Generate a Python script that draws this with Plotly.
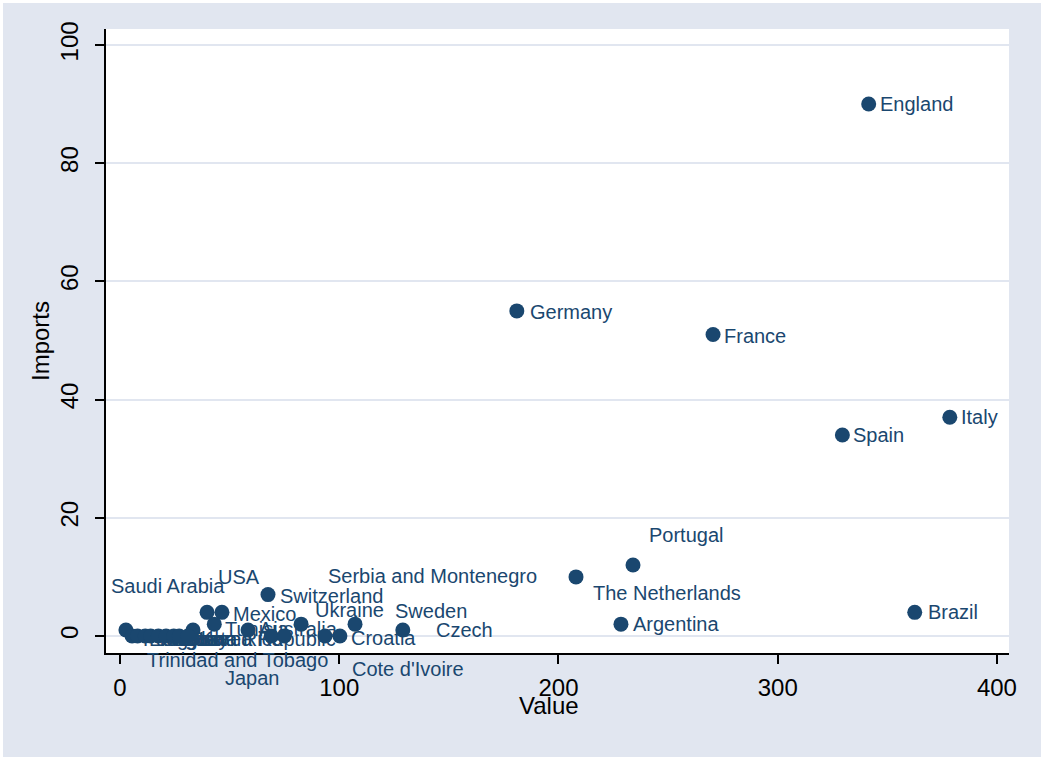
import plotly.graph_objects as go

# ---- data ----
countries = ["England", "Germany", "France", "Italy", "Spain", "Brazil", "Argentina",
             "Portugal", "The Netherlands", "Saudi Arabia", "USA", "Mexico", "Tunisia",
             "Australia", "Switzerland", "Trinidad and Tobago", "Serbia and Montenegro",
             "Ukraine", "Cote d'Ivoire", "Croatia", "Sweden", "Czech", "Japan",
             "Paraguay", "Ecuador", "Togo", "Angola", "Iran", "Ghana", "Costa Rica",
             "Poland", "Korea Republic"]
value = [341.5, 181, 270.5, 378.5, 329.5, 362.5, 228.5,
         234, 208, 2.7, 39.7, 46.5, 43,
         58.4, 67.5, 69, 75,
         82.6, 93.5, 100.3, 107.2, 129, 33.3,
         5.5, 8, 11.5, 14, 17.5, 21, 24.5,
         27, 31]
imports = [90, 55, 51, 37, 34, 4, 2,
           12, 10, 1, 4, 4, 2,
           1, 7, 0, 0,
           2, 0, 0, 2, 1, 1,
           0, 0, 0, 0, 0, 0, 0,
           0, 0]

# ---- label placement (pixel offsets from each marker) ----
lab_anchor = ["left"] * 9 + ["center", "center", "left", "left", "left", "left", "center",
                             "center", "left", "left", "left", "left", "left", "center"] + ["left"] * 9
lab_dx = [9, 11, 9, 9, 9, 11, 10, 14, 15,
          42, 32, 9, 9, 9, 10, -34, 148, 12, 25, 9, 38, 31, 59] + [9] * 9
lab_dy = [0, 1, 1, 0, 0, 0, 0, -30, 16,
          -44, -35, 2, 5, -1, 1, 24, -60, -14, 33, 2, -13, 0, 48] + [3] * 9

NAVY = "#1a476f"
BG = "#e1e6f0"
FONT = "Liberation Sans, Arial, sans-serif"

fig = go.Figure()
fig.add_trace(go.Scatter(
    x=value, y=imports, mode="markers",
    marker=dict(color=NAVY, size=15, line=dict(width=0)),
    hoverinfo="skip", showlegend=False, cliponaxis=False,
))

W, H = 1044, 760
L, R, T, B = 106, 35, 29, 107
pw, ph = W - L - R, H - T - B

annotations = []
for c, xv, yv, a, dx, dy in zip(countries, value, imports, lab_anchor, lab_dx, lab_dy):
    annotations.append(dict(
        x=xv, y=yv, xref="x", yref="y", text=c, showarrow=False,
        xanchor=a, yanchor="middle", xshift=dx, yshift=-dy,
        font=dict(family=FONT, size=20, color=NAVY),
    ))
# x-axis title
annotations.append(dict(
    x=(549 - L) / pw, y=(H - B - 705) / ph, xref="paper", yref="paper",
    text="Value", showarrow=False, xanchor="center", yanchor="middle",
    font=dict(family=FONT, size=24, color="black"),
))

shapes = [dict(
    type="rect", xref="paper", yref="paper",
    x0=-L / pw, x1=(W - L) / pw, y0=-B / ph, y1=(H - B) / ph,
    line=dict(color="white", width=6), fillcolor="rgba(0,0,0,0)", layer="above",
)]

fig.update_layout(
    width=W, height=H,
    margin=dict(l=L, r=R, t=T, b=B, pad=0),
    paper_bgcolor=BG, plot_bgcolor="white",
    font=dict(family=FONT, color="black"),
    annotations=annotations, shapes=shapes,
    xaxis=dict(
        range=[-6.39, 405.5], tickvals=[0, 100, 200, 300, 400],
        showgrid=False, zeroline=False,
        showline=True, linecolor="black", linewidth=2,
        ticks="outside", ticklen=9, tickwidth=2, tickcolor="black",
        tickfont=dict(size=24, color="black"), ticklabelstandoff=3,
    ),
    yaxis=dict(
        range=[-2.88, 102.7], tickvals=[0, 20, 40, 60, 80, 100],
        showgrid=True, gridcolor=BG, gridwidth=2, zeroline=False,
        showline=True, linecolor="black", linewidth=2,
        ticks="outside", ticklen=9, tickwidth=2, tickcolor="black",
        tickangle=-90, ticklabelstandoff=7,
        tickfont=dict(size=24, color="black"),
        title=dict(text="Imports", font=dict(size=24, color="black"), standoff=0),
    ),
)

fig.write_html("out.html")
